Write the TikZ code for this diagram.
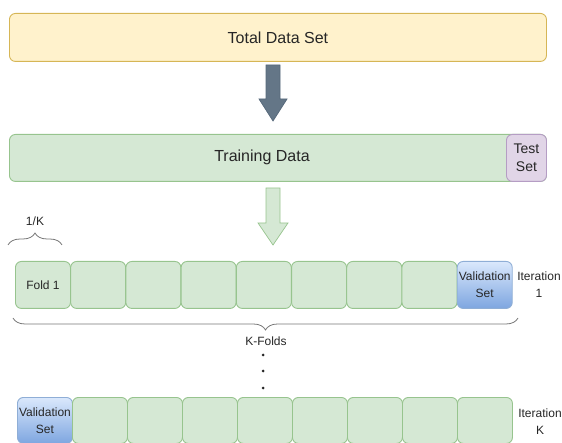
\documentclass[tikz,border=0pt]{standalone}
\usepackage{fontspec}
\setmainfont{Liberation Sans}
\usetikzlibrary{decorations.pathreplacing,calc}

\definecolor{yelfill}{HTML}{FFF2CC}
\definecolor{yelline}{HTML}{D6B656}
\definecolor{grnfill}{HTML}{D5E8D4}
\definecolor{grnline}{HTML}{97C48E}
\definecolor{purfill}{HTML}{E1D5E7}
\definecolor{purline}{HTML}{B59DC4}
\definecolor{blutop}{HTML}{DAE8FC}
\definecolor{blubot}{HTML}{7EA6E0}
\definecolor{bluline}{HTML}{8FAED6}
\definecolor{slatefill}{HTML}{647687}
\definecolor{slateline}{HTML}{56687A}
\definecolor{txt}{HTML}{262626}
\definecolor{bracecol}{HTML}{777777}

\begin{document}
\begin{tikzpicture}[x=1pt,y=-1pt,
  bigtext/.style={font=\fontsize{16}{19}\selectfont, text=txt},
  smalltext/.style={font=\fontsize{12}{17}\selectfont, text=txt, align=center},
  bar/.style={rounded corners=6pt, line width=0.9pt, inner sep=0pt, anchor=north west},
  foldbox/.style={bar, draw=grnline, fill=grnfill, minimum width=55pt, minimum height=47pt, smalltext},
  foldboxb/.style={foldbox, minimum height=46pt},
  valbox/.style={draw=bluline, top color=blutop, bottom color=blubot},
  bracket/.style={draw=bracecol, line width=0.8pt, decorate, decoration={brace, amplitude=12pt}},
  blockarrow/.style={line width=0.7pt, line join=miter}
]
\useasboundingbox (0,0) rectangle (562,443);

% whole data set
\node[bar, bigtext, draw=yelline, fill=yelfill, minimum width=537pt, minimum height=48pt] (total) at (9,13) {Total Data Set};

% train / test split
\node[bar, draw=grnline, fill=grnfill, minimum width=537pt, minimum height=47pt] (train) at (9,134) {};
\node[bigtext] (traintext) at (262,157.5) {Training Data};
\node[bar, draw=purline, fill=purfill, minimum width=40pt, minimum height=47pt,
      font=\fontsize{14}{18}\selectfont, text=txt, align=center] (test) at (506,134) {Test\\Set};

% block arrows
\path[blockarrow, draw=slateline, fill=slatefill]
  (266,65) -- (280,65) -- (280,99) -- (287,99) -- (273,121) -- (259,99) -- (266,99) -- cycle;
\path[blockarrow, draw=grnline, fill=grnfill]
  (266,188) -- (280,188) -- (280,223) -- (288,223) -- (273,245) -- (258,223) -- (266,223) -- cycle;

% size of one fold
\draw[bracket] (8,245) -- (62,245);
\node[smalltext] (onek) at (35,221) {1/K};

% iteration 1
\node[foldbox] (a0) at (15,261) {Fold 1};
\foreach \i in {1,...,7} {
  \node[foldbox] (a\i) at ({15+55.22*\i},261) {};
}
\node[foldbox, valbox] (a8) at ({15+55.22*8},261) {Validation\\Set};
\node[smalltext] (it1) at (539,284.5) {Iteration\\1};

% all folds
\draw[bracket] (518,318) -- (13,318);
\node[smalltext] (kfolds) at (266,341) {K-Folds};

% continuation dots
\foreach \y [count=\n] in {355,371,388} {
  \fill[txt] (263,\y) circle (1.5pt) coordinate (dot\n);
}

% iteration K
\node[foldboxb, valbox] (b0) at (17,397) {Validation\\Set};
\foreach \i in {1,...,8} {
  \node[foldboxb] (b\i) at ({17+55*\i},397) {};
}
\node[smalltext] (itk) at (540,422) {Iteration\\K};
\end{tikzpicture}
\end{document}
